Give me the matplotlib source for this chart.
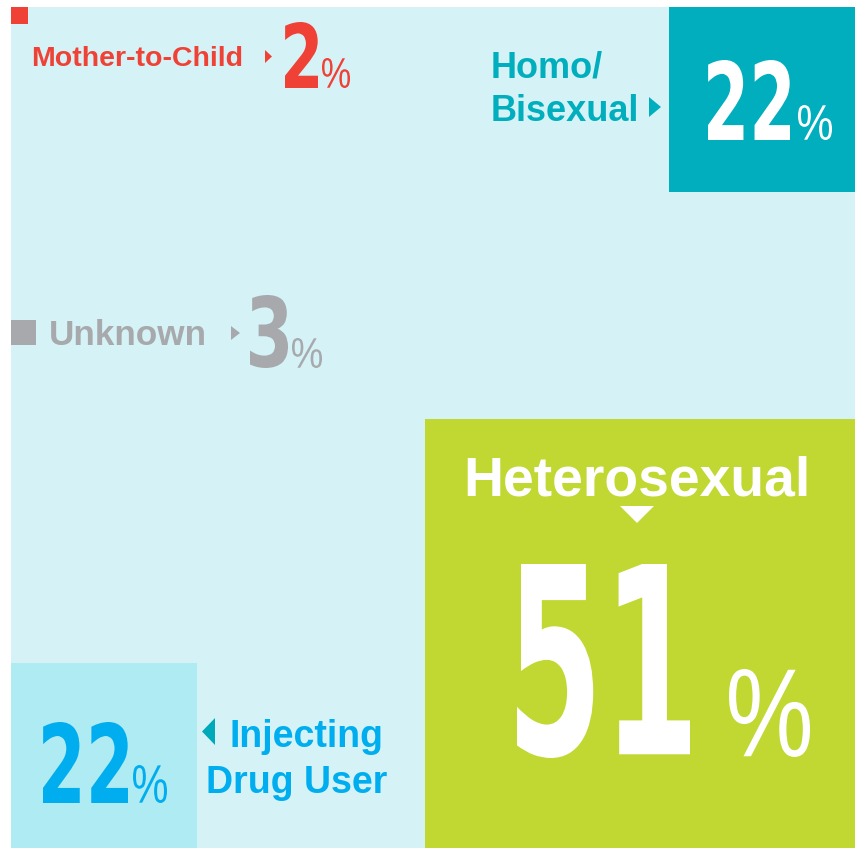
import matplotlib
matplotlib.use("Agg")
import numpy as np
import matplotlib.pyplot as plt
from matplotlib.patches import Rectangle, Polygon, PathPatch
from matplotlib.textpath import TextPath
from matplotlib.font_manager import FontProperties
from matplotlib.transforms import Affine2D

# data
categories = ["Mother-to-Child", "Homo/\nBisexual", "Unknown", "Heterosexual", "Injecting\nDrug User"]
shares = [2, 22, 3, 51, 22]
box_colors = ["#EF4136", "#00AEBD", "#A7A9AC", "#C1D832", "#AEEBF2"]
label_colors = ["#EF4136", "#00AEBD", "#A7A9AC", "#FFFFFF", "#00AEEF"]
number_colors = ["#EF4136", "#FFFFFF", "#A7A9AC", "#FFFFFF", "#00AEEF"]
# where each square sits inside the 100 x 100 frame
anchors = ["top-left", "top-right", "left", "bottom-right", "bottom-left"]
unknown_y = 59.8

bg = "#D5F3F7"

fig = plt.figure(figsize=(8.56, 8.48), dpi=100)
ax = fig.add_axes([11 / 856, 0, 844 / 856, 841 / 848])
ax.set_xlim(0, 100)
ax.set_ylim(0, 100)
ax.axis("off")


def px(x, y):
    # pixel position on the picture -> frame units (layout helper)
    return (x - 11) / 8.44, (848 - y) / 8.41


ax.add_patch(Rectangle((0, 0), 100, 100, fc=bg, ec="none"))

for share, col, anc in zip(shares, box_colors, anchors):
    x0 = 100 - share if "right" in anc else 0
    if anc.startswith("top"):
        y0 = 100 - share
    elif anc.startswith("bottom"):
        y0 = 0
    else:
        y0 = unknown_y
    ax.add_patch(Rectangle((x0, y0), share, share, fc=col, ec="none"))

num_font = FontProperties(family="DejaVu Sans", weight="bold")
pct_font = FontProperties(family="Liberation Sans", weight="normal")
lab_font = dict(family="Liberation Sans", weight="bold")


def fit_text(s, box, color, prop):
    # draw s so that its outline fills box (left, top, right, bottom in pixels)
    l, t, r, b = box
    tp = TextPath((0, 0), s, size=100, prop=prop)
    pts = np.vstack(tp.to_polygons())
    xmin, ymin = pts.min(axis=0)
    xmax, ymax = pts.max(axis=0)
    dx0, dy0 = px(l, b)
    dx1, dy1 = px(r, t)
    tr = (Affine2D().translate(-xmin, -ymin)
          .scale((dx1 - dx0) / (xmax - xmin), (dy1 - dy0) / (ymax - ymin))
          .translate(dx0, dy0))
    ax.add_patch(PathPatch(tr.transform_path(tp), fc=color, ec="none"))


def tri(points, color):
    ax.add_patch(Polygon([px(*p) for p in points], closed=True, fc=color, ec="none"))


# big numbers (digit box, percent box)
num_boxes = [((285, 22, 318, 88), (322, 58, 350, 88)),
             ((708, 60, 790, 140), (798, 105, 832, 140)),
             ((250, 295, 288, 368), (292, 338, 322, 368)),
             ((517, 564, 690, 758), (729, 669, 810, 757)),
             ((43, 722, 128, 803), (133, 765, 167, 803))]
for share, col, (nb, pb) in zip(shares, number_colors, num_boxes):
    fit_text(str(share), nb, col, num_font)
    fit_text("%", pb, col, pct_font)

# labels
ax.text(*px(31, 66), categories[0], color=label_colors[0], fontsize=20.5, ha="left", va="baseline", **lab_font)
homo, bi = categories[1].split("\n")
ax.text(*px(491, 77), homo, color=label_colors[1], fontsize=26, ha="left", va="baseline", **lab_font)
ax.text(*px(491, 121), bi, color=label_colors[1], fontsize=26, ha="left", va="baseline", **lab_font)
ax.text(*px(49, 345), categories[2], color=label_colors[2], fontsize=25.3, ha="left", va="baseline", **lab_font)
ax.text(*px(637, 495), categories[3], color=label_colors[3], fontsize=39.8, ha="center", va="baseline", **lab_font)
inj, drug = categories[4].split("\n")
ax.text(*px(229, 747), inj, color=label_colors[4], fontsize=27, ha="left", va="baseline", **lab_font)
ax.text(*px(206, 793), drug, color=label_colors[4], fontsize=27, ha="left", va="baseline", **lab_font)

# pointers
tri([(265, 50), (265, 63), (272, 56.5)], label_colors[0])
tri([(649, 97), (649, 117), (661, 107)], label_colors[1])
tri([(231, 326), (231, 340), (240, 333)], label_colors[2])
tri([(620, 506), (654, 506), (637, 523)], label_colors[3])
tri([(215, 718), (215, 745), (202, 731.5)], "#00A9B7")

fig.savefig("out.png", dpi=100)
